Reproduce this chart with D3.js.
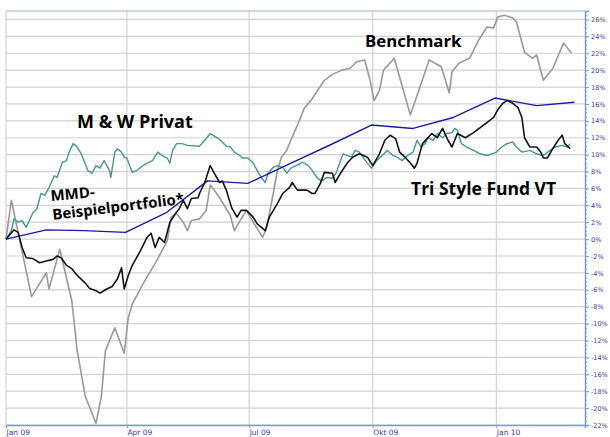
<!DOCTYPE html>
<html><head><meta charset="utf-8">
<script src="https://cdn.jsdelivr.net/npm/d3@7"></script>
<style>body{margin:0;background:#fff} svg{display:block}</style>
</head><body><svg id="c" width="610" height="437"></svg>
<script>
const xTickDates = ["2009-01-01","2009-04-01","2009-07-01","2009-10-01","2010-01-01"];
const xTickLabels = ["Jan 09","Apr 09","Jul 09","Okt 09","Jan 10"];
const yTicks = d3.range(-22, 27, 2);

const benchmark = [["2009-01-01",0],["2009-01-05",4.6],["2009-01-20",-6.8],["2009-01-31",-4.0],["2009-02-02",-5.9],["2009-02-10",-1.2],["2009-02-19",-7.3],["2009-02-23",-13.2],["2009-03-01",-18.6],["2009-03-09",-21.8],["2009-03-13",-18.6],["2009-03-16",-13.2],["2009-03-23",-10.5],["2009-03-30",-13.5],["2009-04-02",-9.3],["2009-04-05",-7.7],["2009-04-13",-5.3],["2009-04-23",-2.6],["2009-05-01",-0.2],["2009-05-04",2.6],["2009-05-08",3.0],["2009-05-13",2.0],["2009-05-16",1.0],["2009-05-19",2.2],["2009-05-25",2.4],["2009-05-30",3.4],["2009-06-02",6.4],["2009-06-05",5.8],["2009-06-09",4.9],["2009-06-17",2.8],["2009-06-20",1.0],["2009-06-25",2.4],["2009-06-29",3.4],["2009-07-04",2.0],["2009-07-11",0.2],["2009-07-14",1.4],["2009-07-18",4.6],["2009-07-22",8.1],["2009-07-25",9.7],["2009-07-29",10.5],["2009-08-01",11.7],["2009-08-06",13.5],["2009-08-11",15.5],["2009-08-16",16.4],["2009-08-21",17.6],["2009-08-26",18.8],["2009-09-01",19.5],["2009-09-08",20.0],["2009-09-14",20.2],["2009-09-19",21.0],["2009-09-25",21.2],["2009-09-29",18.8],["2009-10-02",16.4],["2009-10-06",17.6],["2009-10-09",20.0],["2009-10-17",21.4],["2009-10-29",14.7],["2009-11-12",21.2],["2009-11-21",20.4],["2009-11-27",17.3],["2009-11-29",19.8],["2009-12-04",20.8],["2009-12-12",21.4],["2009-12-19",23.6],["2009-12-25",25.1],["2009-12-30",25.0],["2010-01-02",26.3],["2010-01-07",26.5],["2010-01-13",26.2],["2010-01-16",25.7],["2010-01-22",22.1],["2010-01-28",21.4],["2010-01-31",21.8],["2010-02-05",18.8],["2010-02-12",20.2],["2010-02-20",23.2],["2010-02-26",22.0]];

const mwPrivat = [["2009-01-01",0],["2009-01-05",1.0],["2009-01-07",2.4],["2009-01-10",2.0],["2009-01-13",2.2],["2009-01-16",1.4],["2009-01-21",3.1],["2009-01-24",3.6],["2009-01-27",5.4],["2009-01-30",5.2],["2009-02-02",6.1],["2009-02-06",7.5],["2009-02-08",7.3],["2009-02-12",9.1],["2009-02-15",9.3],["2009-02-17",10.3],["2009-02-20",11.3],["2009-02-23",10.9],["2009-02-26",10.1],["2009-03-03",8.1],["2009-03-06",7.8],["2009-03-09",8.7],["2009-03-12",8.4],["2009-03-15",9.3],["2009-03-19",8.1],["2009-03-20",7.3],["2009-03-23",10.3],["2009-03-25",10.7],["2009-03-28",10.3],["2009-03-30",9.7],["2009-04-01",9.6],["2009-04-03",8.7],["2009-04-05",7.9],["2009-04-08",8.1],["2009-04-13",8.7],["2009-04-16",9.0],["2009-04-20",9.3],["2009-04-24",10.3],["2009-04-27",9.9],["2009-05-01",9.6],["2009-05-03",9.0],["2009-05-05",10.5],["2009-05-08",11.3],["2009-05-12",11.3],["2009-05-16",11.1],["2009-05-25",11.0],["2009-05-29",11.7],["2009-06-02",12.5],["2009-06-04",12.3],["2009-06-08",11.9],["2009-06-11",11.5],["2009-06-14",11.0],["2009-06-17",10.9],["2009-06-20",10.3],["2009-06-24",9.9],["2009-06-26",9.6],["2009-06-30",9.6],["2009-07-04",9.0],["2009-07-07",8.1],["2009-07-10",7.3],["2009-07-13",6.7],["2009-07-15",7.8],["2009-07-19",8.5],["2009-07-22",8.7],["2009-07-26",8.5],["2009-07-29",7.8],["2009-08-01",8.4],["2009-08-05",8.7],["2009-08-10",9.1],["2009-08-14",8.7],["2009-08-17",8.1],["2009-08-21",7.2],["2009-08-24",6.9],["2009-08-28",7.3],["2009-09-01",7.2],["2009-09-04",7.9],["2009-09-07",9.3],["2009-09-09",10.1],["2009-09-12",9.9],["2009-09-15",9.7],["2009-09-18",10.5],["2009-09-21",10.3],["2009-09-27",9.0],["2009-09-30",8.4],["2009-10-04",9.3],["2009-10-08",9.9],["2009-10-12",10.5],["2009-10-16",9.9],["2009-10-19",9.7],["2009-10-23",9.3],["2009-10-27",9.9],["2009-10-31",10.3],["2009-11-03",11.7],["2009-11-06",10.9],["2009-11-09",11.3],["2009-11-11",12.0],["2009-11-15",11.7],["2009-11-18",12.5],["2009-11-22",12.0],["2009-11-25",12.5],["2009-11-29",12.6],["2009-12-01",13.1],["2009-12-03",12.9],["2009-12-06",11.3],["2009-12-10",10.9],["2009-12-15",10.5],["2009-12-20",10.1],["2009-12-25",9.9],["2009-12-29",10.1],["2010-01-01",10.3],["2010-01-05",10.9],["2010-01-09",11.3],["2010-01-13",11.5],["2010-01-16",10.9],["2010-01-20",10.3],["2010-01-26",10.5],["2010-01-31",10.1],["2010-02-05",9.9],["2010-02-10",10.5],["2010-02-14",10.9],["2010-02-19",11.1],["2010-02-23",10.9],["2010-02-25",11.3]];

const triStyle = [["2009-01-01",0],["2009-01-07",1.1],["2009-01-10",0.8],["2009-01-13",-1.0],["2009-01-16",-2.2],["2009-01-21",-2.3],["2009-01-26",-2.8],["2009-01-31",-2.6],["2009-02-05",-2.4],["2009-02-08",-2.0],["2009-02-11",-2.2],["2009-02-15",-3.1],["2009-02-19",-3.5],["2009-02-23",-4.3],["2009-03-01",-5.2],["2009-03-04",-5.8],["2009-03-09",-6.1],["2009-03-12",-6.4],["2009-03-17",-5.9],["2009-03-21",-5.6],["2009-03-25",-4.7],["2009-03-28",-3.4],["2009-03-30",-5.9],["2009-04-02",-4.3],["2009-04-05",-3.1],["2009-04-11",-1.4],["2009-04-16",0.2],["2009-04-19",0.7],["2009-04-22",-1.0],["2009-04-25",0.2],["2009-04-29",-0.4],["2009-05-03",2.0],["2009-05-07",3.0],["2009-05-10",3.6],["2009-05-13",4.6],["2009-05-16",3.6],["2009-05-19",4.8],["2009-05-24",4.9],["2009-05-25",5.4],["2009-05-29",6.7],["2009-06-02",8.7],["2009-06-05",7.8],["2009-06-09",6.7],["2009-06-11",6.9],["2009-06-14",5.8],["2009-06-18",3.7],["2009-06-22",2.6],["2009-06-25",3.4],["2009-06-29",3.4],["2009-07-04",2.6],["2009-07-07",1.8],["2009-07-13",1.0],["2009-07-16",2.6],["2009-07-22",4.2],["2009-07-26",5.4],["2009-07-31",6.1],["2009-08-02",6.7],["2009-08-06",5.8],["2009-08-13",5.8],["2009-08-17",5.4],["2009-08-19",5.4],["2009-08-23",6.6],["2009-08-26",7.9],["2009-09-01",7.8],["2009-09-03",6.7],["2009-09-07",7.8],["2009-09-12",9.0],["2009-09-16",9.7],["2009-09-21",10.1],["2009-09-27",9.7],["2009-10-01",8.7],["2009-10-06",10.1],["2009-10-10",11.7],["2009-10-14",12.3],["2009-10-18",11.9],["2009-10-21",10.3],["2009-10-25",9.7],["2009-10-29",9.0],["2009-11-01",8.4],["2009-11-03",9.0],["2009-11-07",11.3],["2009-11-14",12.5],["2009-11-18",12.0],["2009-11-22",13.1],["2009-11-26",11.7],["2009-11-29",10.9],["2009-12-03",12.5],["2009-12-09",12.0],["2009-12-15",12.6],["2009-12-20",13.2],["2009-12-25",13.8],["2009-12-30",14.4],["2010-01-02",15.3],["2010-01-06",16.1],["2010-01-09",16.4],["2010-01-13",16.1],["2010-01-17",15.6],["2010-01-20",14.4],["2010-01-22",12.0],["2010-01-26",10.9],["2010-01-31",10.9],["2010-02-03",10.3],["2010-02-05",9.6],["2010-02-08",9.6],["2010-02-12",10.7],["2010-02-16",11.7],["2010-02-19",12.3],["2010-02-21",11.3],["2010-02-25",10.7]];

const mmd = [["2009-01-01",0],["2009-01-31",1.1],["2009-02-28",1.0],["2009-03-31",0.8],["2009-04-30",3.1],["2009-05-31",6.9],["2009-06-30",6.6],["2009-07-31",8.9],["2009-08-31",11.2],["2009-09-30",13.5],["2009-10-31",13.1],["2009-11-30",14.4],["2009-12-31",16.7],["2010-01-31",15.8],["2010-02-28",16.2]];

const parse = d3.timeParse("%Y-%m-%d");
const svg = d3.select("#c");
const x = d3.scaleTime().domain([parse("2009-01-01"), parse("2010-03-08")]).range([6, 585]);
const y = d3.scaleLinear().domain([-22, 27]).range([425, 11]);

// grid
svg.append("g").selectAll("line").data(yTicks).join("line")
  .attr("x1", 6).attr("x2", 585).attr("y1", d => y(d)).attr("y2", d => y(d))
  .attr("stroke", "#d2d2d2").attr("stroke-width", 1.2);
svg.append("g").selectAll("line").data(xTickDates).join("line")
  .attr("x1", d => x(parse(d))).attr("x2", d => x(parse(d))).attr("y1", 11).attr("y2", 425)
  .attr("stroke", "#d2d2d2").attr("stroke-width", 1.2);
// top border
svg.append("line").attr("x1", 6).attr("x2", 585).attr("y1", y(27)).attr("y2", y(27))
  .attr("stroke", "#9ab3e6").attr("stroke-width", 1);

const line = d3.line().x(d => x(parse(d[0]))).y(d => y(d[1]));
const series = [
  {data: benchmark, color: "#9a9a9a", w: 1.6},
  {data: mwPrivat, color: "#4a9690", w: 1.4},
  {data: mmd, color: "#1c1ca0", w: 1.4},
  {data: triStyle, color: "#141414", w: 1.6}
];
svg.append("g").selectAll("path").data(series).join("path")
  .attr("d", s => line(s.data)).attr("fill", "none")
  .attr("stroke", s => s.color).attr("stroke-width", s => s.w)
  .attr("stroke-linejoin", "round");

// right axis minor ticks
const axisColor = "#7a9ad8";
const labelColor = "#3c3ca0";
const minor = svg.append("g").attr("transform", "translate(585,0)")
  .call(d3.axisRight(y).tickValues(d3.range(-22, 27.01, 0.5)).tickSize(2).tickFormat(""));
minor.select(".domain").remove();
minor.selectAll("line").attr("stroke", axisColor);
const yAxis = svg.append("g").attr("transform", "translate(585,0)")
  .call(d3.axisRight(y).tickValues(yTicks).tickSize(4).tickPadding(2).tickFormat(d => d + "%"));
yAxis.select(".domain").attr("stroke", axisColor).attr("stroke-width", 1.5);
yAxis.selectAll("line").attr("stroke", axisColor);
yAxis.selectAll("text").attr("fill", labelColor).attr("font-family", "DejaVu Sans").attr("font-size", 6.5);

const xAxis = svg.append("g").attr("transform", "translate(0,425)")
  .call(d3.axisBottom(x).tickValues(xTickDates.map(parse)).tickSize(3).tickFormat((d, i) => xTickLabels[i]));
xAxis.select(".domain").attr("stroke", axisColor).attr("stroke-width", 1.5);
xAxis.selectAll("line").attr("stroke", axisColor);
xAxis.selectAll("text").attr("fill", labelColor).attr("font-family", "DejaVu Sans").attr("font-size", 7.5)
  .attr("text-anchor", "start").attr("x", 0).attr("y", 5);

// annotations
const ann = svg.append("g").attr("font-family", "Open Sans").attr("font-weight", 700).attr("fill", "#000");
ann.append("text").attr("x", 365).attr("y", 47).attr("font-size", 16.8).text("Benchmark");
ann.append("text").attr("x", 77).attr("y", 128).attr("font-size", 18).text("M & W Privat");
ann.append("text").attr("x", 411).attr("y", 195).attr("font-size", 17.5).text("Tri Style Fund VT");
ann.append("text").attr("transform", "translate(51,201) rotate(-5)").attr("font-size", 15).text("MMD-");
ann.append("text").attr("transform", "translate(53,220) rotate(-7)").attr("font-size", 15).text("Beispielportfolio*");
</script></body></html>
